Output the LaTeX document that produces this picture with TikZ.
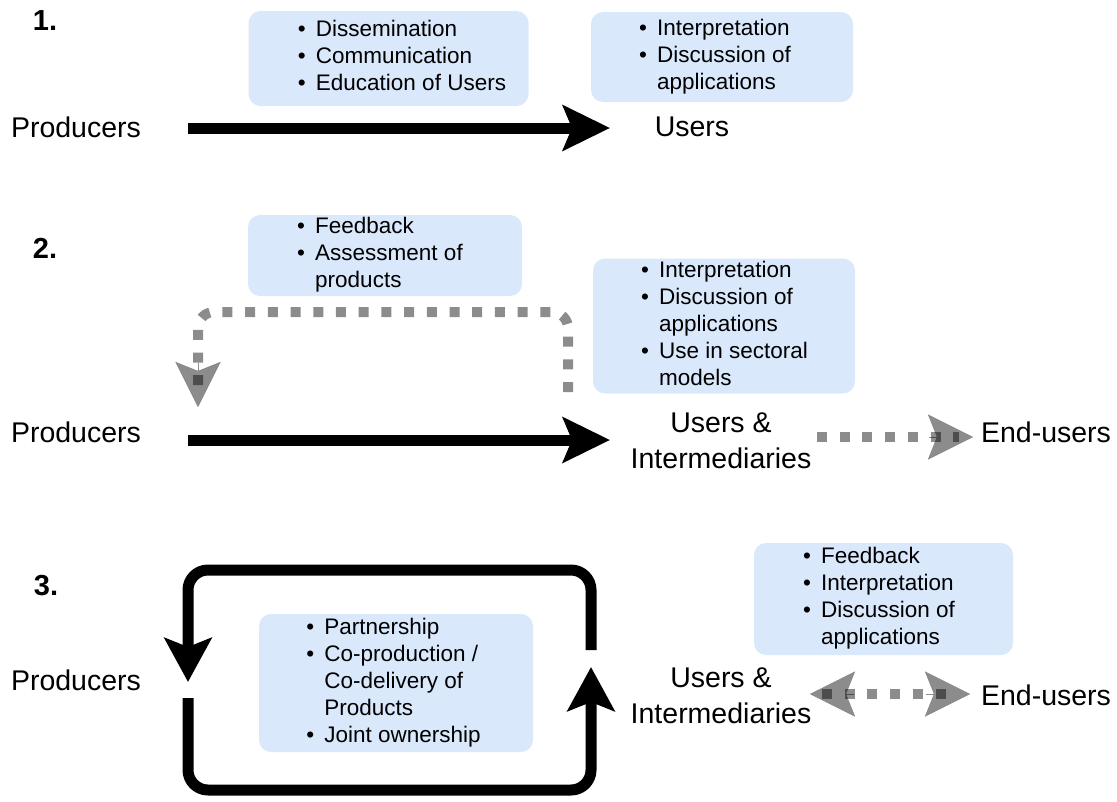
\documentclass[tikz,border=0pt]{standalone}
\usepackage{fontspec}
\setmainfont{Liberation Sans}
\usetikzlibrary{arrows.meta}
\definecolor{boxblue}{HTML}{DAE8FC}
\newcommand{\bl}[1]{\makebox[19pt][l]{\hspace{1pt}•}#1}
\newcommand{\cl}[1]{\hspace{19pt}#1}
\newcommand{\blist}[3]{\hspace*{#1}\begin{tabular}{@{}l@{}}#3\end{tabular}\hspace*{#2}}
\begin{document}
\begin{tikzpicture}[x=1pt,y=-1pt,
 info/.style={rounded corners=12pt, fill=boxblue, inner sep=0pt, font=\fontsize{22.5}{27}\selectfont},
 lbl/.style={font=\fontsize{28.5}{36}\selectfont, inner sep=0pt, align=center},
 num/.style={font=\bfseries\fontsize{29}{32}\selectfont, inner sep=0pt},
 bigarrow/.style={line width=11pt, -{Stealth[length=47pt,width=45pt,inset=9pt]}},
 looparrow/.style={line width=11pt, rounded corners=20pt, -{Stealth[length=44pt,width=47pt,inset=9pt]}},
 graydash/.style={line width=10pt, black, opacity=0.45, dash pattern=on 10pt off 12.7pt},
 grayhead/.style={line width=0.05pt, black, opacity=0.45, -{Stealth[length=45pt,width=45pt,inset=9pt]}},
 grayheadrev/.style={line width=0.05pt, black, opacity=0.45, {Stealth[length=45pt,width=45pt,inset=9pt]}-},
 ]
\useasboundingbox (0,0) rectangle (1117,801);

% ---------- Section 1 ----------
\node[num] (n1) at (45,21) {1.};
\node[info, minimum width=280pt, minimum height=95pt] (b1) at (388.5,58.5)
  {\blist{26pt}{0pt}{\bl{Dissemination}\\ \bl{Communication}\\ \bl{Education of Users}}};
\node[info, minimum width=262pt, minimum height=90pt] (b2) at (722,57)
  {\blist{0pt}{15pt}{\bl{Interpretation}\\ \bl{Discussion of}\\ \cl{applications}}};
\node[lbl] (p1) at (76,127) {Producers};
\node[lbl] (u1) at (692,127) {Users};
\coordinate (a1s) at (188,128);
\coordinate (a1e) at (610,128);
\draw[bigarrow] (a1s) -- (a1e);

% ---------- Section 2 ----------
\node[num] (n2) at (45,248) {2.};
\node[info, minimum width=274pt, minimum height=81pt] (b3) at (385,255.5)
  {\blist{0pt}{11pt}{\bl{Feedback}\\ \bl{Assessment of}\\ \cl{products}}};
\node[info, minimum width=262pt, minimum height=132pt] (b4) at (724,326)
  {\blist{0pt}{0pt}{\bl{Interpretation}\\ \bl{Discussion of}\\ \cl{applications}\\ \bl{Use in sectoral}\\ \cl{models}}};
\node[lbl] (p2) at (76,432) {Producers};
\node[lbl] (u2) at (721,441) {Users \&\\Intermediaries};
\node[lbl] (e2) at (1046,432) {End-users};
\coordinate (a2s) at (188,440);
\coordinate (a2e) at (610,440);
\draw[bigarrow] (a2s) -- (a2e);
\coordinate (g2s) at (568,392);
\coordinate (g2e) at (198,407);
\draw[graydash, rounded corners=16pt] (g2s) -- (568,312) -- (198,312) -- ([yshift=14pt]g2e);
\draw[grayhead] ([yshift=44pt]g2e) -- (g2e);
\coordinate (g3s) at (817,437);
\coordinate (g3e) at (973,437);
\draw[graydash] (g3s) -- ([xshift=-14pt]g3e);
\draw[grayhead] ([xshift=-44pt]g3e) -- (g3e);

% ---------- Section 3 ----------
\node[num] (n3) at (46,586) {3.};
\node[info, minimum width=259pt, minimum height=112pt] (b5) at (883.5,599)
  {\blist{0pt}{10pt}{\bl{Feedback}\\ \bl{Interpretation}\\ \bl{Discussion of}\\ \cl{applications}}};
\node[info, minimum width=274pt, minimum height=138pt] (b6) at (396,683)
  {\blist{0pt}{6pt}{\bl{Partnership}\\ \bl{Co-production /}\\ \cl{Co-delivery of}\\ \cl{Products}\\ \bl{Joint ownership}}};
\node[lbl] (p3) at (76,680) {Producers};
\node[lbl] (u3) at (721,696) {Users \&\\Intermediaries};
\node[lbl] (e3) at (1046,695) {End-users};
\coordinate (l1s) at (591,650);
\coordinate (l1e) at (188,682);
\draw[looparrow] (l1s) -- (591,570) -- (188,570) -- (l1e);
\coordinate (l2s) at (188,698);
\coordinate (l2e) at (591,667);
\draw[looparrow] (l2s) -- (188,790) -- (591,790) -- (l2e);
\coordinate (d3s) at (810,694);
\coordinate (d3e) at (970,694);
\draw[graydash] ([xshift=12pt]d3s) -- ([xshift=-14pt]d3e);
\draw[grayheadrev] (d3s) -- ([xshift=44pt]d3s);
\draw[grayhead] ([xshift=-44pt]d3e) -- (d3e);
\end{tikzpicture}
\end{document}
